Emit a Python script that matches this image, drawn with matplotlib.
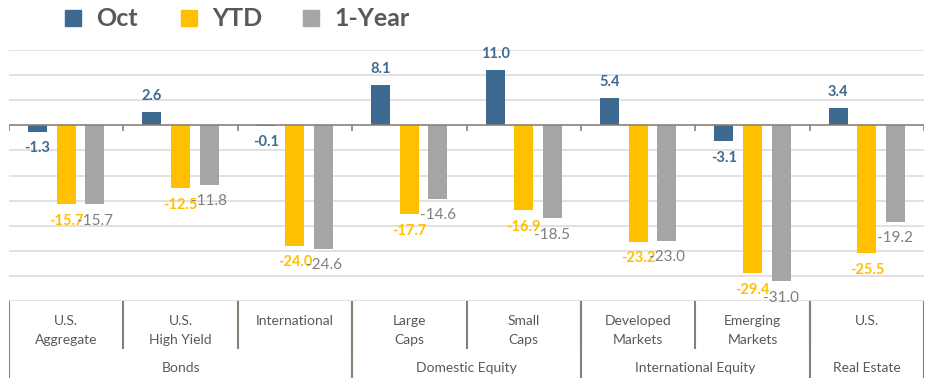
import numpy as np
import matplotlib
matplotlib.use("Agg")
from matplotlib import pyplot as plt
from matplotlib.patches import Rectangle

plt.rcParams['font.family'] = ['Lato', 'DejaVu Sans']

categories = ["U.S.\nAggregate", "U.S.\nHigh Yield", "International", "Large\nCaps",
              "Small\nCaps", "Developed\nMarkets", "Emerging\nMarkets", "U.S."]
groups = ["Bonds", "Domestic Equity", "International Equity", "Real Estate"]
group_spans = [(0, 2), (3, 4), (5, 6), (7, 7)]

oct_vals = [-1.3, 2.6, -0.1, 8.1, 11.0, 5.4, -3.1, 3.4]
ytd_vals = [-15.7, -12.5, -24.0, -17.7, -16.9, -23.2, -29.4, -25.5]
year_vals = [-15.7, -11.8, -24.6, -14.6, -18.5, -23.0, -31.0, -19.2]

series = [("Oct", oct_vals, "#3E6991", "#3E6991", "bold"),
          ("YTD", ytd_vals, "#FFC000", "#FFC000", "bold"),
          ("1-Year", year_vals, "#A5A5A5", "#7F7F7F", "normal")]

W, H = 938, 391
fig = plt.figure(figsize=(W / 100, H / 100), dpi=100)
ax = fig.add_axes([9 / W, (H - 301) / H, 915 / W, 251 / H])

x = np.arange(len(categories))
width = 0.166
offsets = [-0.25, 0, 0.25]
line_col = "#898176"

for yv in range(-35, 16, 5):
    if yv != 0:
        ax.axhline(yv, color="#D9D9D9", lw=1.1, zorder=0)

for (name, vals, col, lcol, wt), off in zip(series, offsets):
    ax.bar(x + off, vals, width, color=col, label=name, zorder=2)
    for xi, v in zip(x + off, vals):
        ax.annotate(f"{v:.1f}", (xi, v), xytext=(0, 11.5 if v >= 0 else -12),
                    textcoords="offset points", ha="center", va="center",
                    color=lcol, fontsize=10.5 if wt == "bold" else 11,
                    fontweight=wt, zorder=3)

ax.axhline(0, color=line_col, lw=1.2, zorder=3)
ax.vlines(np.arange(-0.5, len(categories)), -1.2, 0, color=line_col, lw=1.2, zorder=3)

ax.set_xlim(-0.5, len(categories) - 0.5)
ax.set_ylim(-35, 15)
ax.axis("off")

# two-level category axis
ax2 = fig.add_axes([9 / W, (H - 378) / H, 915 / W, 77 / H])
ax2.set_xlim(-0.5, len(categories) - 0.5)
ax2.set_ylim(0, 1)
ax2.axis("off")
for i, c in enumerate(categories):
    ax2.text(i, 0.82, c, ha="center", va="top", fontsize=10, color="#595959",
             linespacing=1.75)
for i in range(len(categories) - 1):
    ax2.plot([i + 0.5, i + 0.5], [0.39, 1], color=line_col, lw=1.5)
bounds = [-0.5] + [e + 0.5 for _, e in group_spans]
for b in bounds:
    ax2.plot([b, b], [0, 1], color=line_col, lw=1.5)
for g, (s, e) in zip(groups, group_spans):
    ax2.text((s + e) / 2, 0.13, g, ha="center", va="center", fontsize=10,
             color="#595959")

# legend drawn by hand (pixel positions from the reference)
leg_x = [65, 181, 303]
for (name, vals, col, lcol, wt), lx in zip(series, leg_x):
    fig.patches.append(Rectangle((lx / W, 1 - 26 / H), 16 / W, 16 / H,
                                 transform=fig.transFigure, color=col))
    fig.text((lx + 31) / W, 1 - 18 / H, name, ha="left", va="center",
             fontsize=18, fontweight="bold", color="#595959")

fig.savefig("out.png", dpi=100)
